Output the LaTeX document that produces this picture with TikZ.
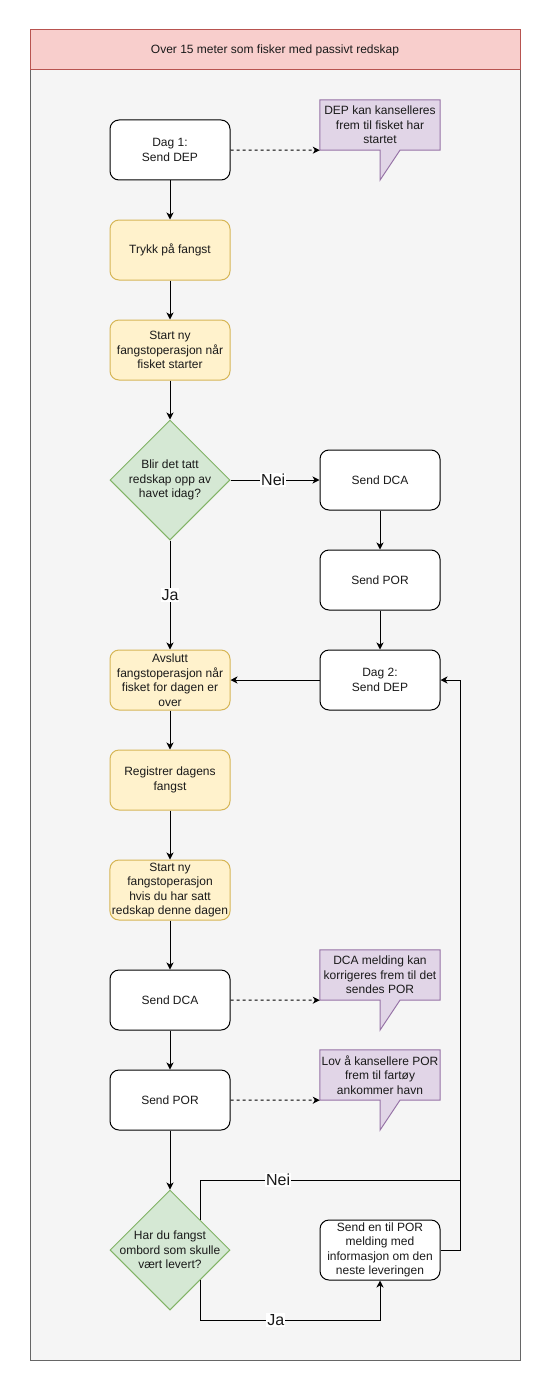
\documentclass[tikz,border=0pt]{standalone}
\usepackage{fontspec}
\setmainfont{Liberation Sans}
\usetikzlibrary{shapes.geometric,arrows.meta,calc}
\definecolor{hdrF}{HTML}{F8CECC}
\definecolor{hdrS}{HTML}{B85450}
\definecolor{bodyF}{HTML}{F5F5F5}
\definecolor{bodyS}{HTML}{666666}
\definecolor{yelF}{HTML}{FFF2CC}
\definecolor{yelS}{HTML}{D6B656}
\definecolor{grnF}{HTML}{D5E8D4}
\definecolor{grnS}{HTML}{82B366}
\definecolor{purF}{HTML}{E1D5E7}
\definecolor{purS}{HTML}{9673A6}
\definecolor{txt}{HTML}{1A1A1A}
\newcommand\fsz{\fontsize{12}{14.5}\selectfont}
\newcommand\lsz{\fontsize{16}{18}\selectfont}
\pgfdeclarelayer{back}
\pgfdeclarelayer{bg}
\pgfsetlayers{back,bg,main}
\tikzset{
  base/.style={line width=1pt, minimum width=120pt, minimum height=60pt, align=center, inner sep=2pt, font=\fsz, text=txt},
  wbox/.style={base, draw=black, fill=white, rounded corners=9pt},
  ybox/.style={base, draw=yelS, fill=yelF, rounded corners=9pt},
  dec/.style={diamond, draw=grnS, fill=grnF, line width=1pt, minimum width=120pt, minimum height=120pt, inner sep=0pt, aspect=1},
  dlab/.style={align=center, font=\fsz, text=txt, inner sep=0pt},
  callt/.style={minimum width=120pt, minimum height=50pt, align=center, inner sep=1pt, font=\fsz, text=txt},
  callshape/.style={draw=purS, fill=purF, line width=1pt},
  arr/.style={draw=black, line width=1pt, -{Stealth[length=7pt,width=7pt,inset=2pt]}},
  darr/.style={arr, dash pattern=on 3pt off 3pt},
  ln/.style={draw=black, line width=1pt},
  elab/.style={fill=white, font=\lsz, text=txt, inner sep=1pt}
}
\newcommand\callshp[1]{%
  \begin{pgfonlayer}{bg}
  \draw[callshape] (#1.north west) -- (#1.north east) -- (#1.south east) -- ([xshift=20pt]#1.south) -- ([yshift=-30pt]#1.south) -- (#1.south) -- (#1.south west) -- cycle;
  \end{pgfonlayer}}
\begin{document}
\begin{tikzpicture}[x=1pt,y=-1pt]
\useasboundingbox (0,0) rectangle (551,1391);
% container
\begin{pgfonlayer}{back}
\draw[draw=bodyS, fill=bodyF, line width=1pt] (30,70) rectangle (520,1360);
\draw[draw=hdrS, fill=hdrF, line width=1pt] (30,30) rectangle (520,70);
\end{pgfonlayer}
\node[font=\fsz, text=txt] (title) at (275,50) {Over 15 meter som fisker med passivt redskap};

% left column
\node[wbox] (dag1) at (170,150) {Dag 1:\\Send DEP};
\node[ybox] (tr) at (170,250) {Trykk på fangst};
\node[ybox] (sn) at (170,350) {Start ny\\fangstoperasjon når\\fisket starter};
\node[dec, label={[dlab]center:{Blir det tatt\\redskap opp av\\havet idag?}}] (d1) at (170,480) {};
\node[ybox] (avs) at (170,680) {Avslutt\\fangstoperasjon når\\fisket for dagen er\\over};
\node[ybox] (reg) at (170,780) {Registrer dagens\\fangst};
\node[ybox] (sn2) at (170,890) {Start ny\\fangstoperasjon\\hvis du har satt\\redskap denne dagen};
\node[wbox] (dca2) at (170,1000) {Send DCA};
\node[wbox] (por2) at (170,1100) {Send POR};
\node[dec, label={[dlab]center:{Har du fangst\\ombord som skulle\\vært levert?}}] (d2) at (170,1250) {};

% right column
\node[wbox] (dca1) at (380,480) {Send DCA};
\node[wbox] (por1) at (380,580) {Send POR};
\node[wbox] (dag2) at (380,680) {Dag 2:\\Send DEP};
\node[wbox] (info) at (380,1250) {Send en til POR\\melding med\\informasjon om den\\neste leveringen};

% callouts
\node[callt] (c1) at (380,125) {DEP kan kanselleres\\frem til fisket har\\startet};
\callshp{c1}
\node[callt] (c2) at (380,975) {DCA melding kan\\korrigeres frem til det\\sendes POR};
\callshp{c2}
\node[callt] (c3) at (380,1075) {Lov å kansellere POR\\frem til fartøy\\ankommer havn};
\callshp{c3}

% connectors
\draw[darr] (dag1.east) -- (c1.south west);
\draw[darr] (dca2.east) -- (c2.south west);
\draw[darr] (por2.east) -- (c3.south west);
\draw[arr] (dag1) -- (tr);
\draw[arr] (tr) -- (sn);
\draw[arr] (sn) -- (d1);
\draw[arr] (d1) -- node[elab, pos=0.48]{Nei} (dca1);
\draw[arr] (d1) -- node[elab]{Ja} (avs);
\draw[arr] (dca1) -- (por1);
\draw[arr] (por1) -- (dag2);
\draw[arr] (dag2) -- (avs);
\draw[arr] (avs) -- (reg);
\draw[arr] (reg) -- (sn2);
\draw[arr] (sn2) -- (dca2);
\draw[arr] (dca2) -- (por2);
\draw[arr] (por2) -- (d2);

\coordinate (dur) at ($(d2.north)!0.5!(d2.east)$);
\coordinate (dlr) at ($(d2.south)!0.5!(d2.east)$);
\coordinate (nr) at (460,1180);
\coordinate (jr) at (380,1320);
\draw[arr] (dur) |- node[elab, pos=0.65]{Nei} (nr) |- (dag2.east);
\draw[ln] (info.east) -| (nr);
\draw[arr] (dlr) |- node[elab, pos=0.71]{Ja} (jr) -- (info.south);
\end{tikzpicture}
\end{document}
